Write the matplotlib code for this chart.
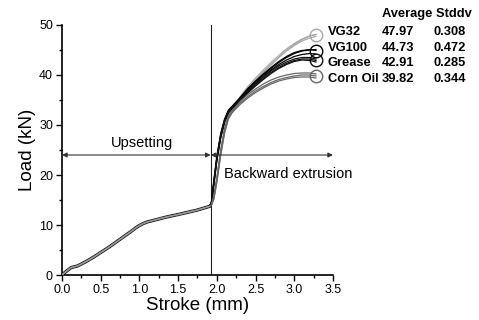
import matplotlib
matplotlib.use("Agg")
import matplotlib.pyplot as plt
from matplotlib.ticker import MultipleLocator

plt.rcParams['font.family'] = ['Liberation Sans', 'DejaVu Sans']

# Upsetting stage (shared by all tests)
stroke_upset = [0.0, 0.06, 0.12, 0.2, 0.3, 0.4, 0.5, 0.6, 0.7, 0.8, 0.9, 0.95,
                1.0, 1.05, 1.1, 1.2, 1.35, 1.5, 1.75, 1.9]
load_upset = [0.0, 0.8, 1.5, 1.8, 2.6, 3.5, 4.5, 5.5, 6.6, 7.7, 8.8, 9.4,
              9.9, 10.3, 10.6, 11.0, 11.6, 12.1, 13.0, 13.7]

# Backward extrusion stage, three tests per lubricant
stroke_ext = [1.93, 1.96, 2.0, 2.05, 2.1, 2.15, 2.2, 2.3, 2.4, 2.5, 2.6, 2.7,
              2.8, 2.9, 3.0, 3.1, 3.2, 3.28]

lubricants = ['VG32', 'VG100', 'Grease', 'Corn Oil']
averages = ['47.97', '44.73', '42.91', '39.82']
stddevs = ['0.308', '0.472', '0.285', '0.344']
colors = ['#a8a8a8', '#000000', '#111111', '#686868']

vg32_tests = [
    [14.0, 15.5, 19.0, 24.5, 29.0, 31.8, 33.0, 35.3, 37.3, 39.0, 40.6, 42.1, 43.5, 44.8, 45.9, 46.8, 47.4, 47.7],
    [14.0, 15.2, 18.5, 24.0, 28.6, 31.5, 32.8, 35.1, 37.1, 38.9, 40.5, 42.0, 43.5, 44.9, 46.1, 47.1, 47.8, 48.1],
    [14.0, 15.8, 19.5, 25.0, 29.3, 32.0, 33.2, 35.6, 37.7, 39.4, 41.0, 42.5, 43.9, 45.2, 46.3, 47.2, 47.8, 48.1],
]
vg100_tests = [
    [14.5, 18.5, 23.5, 28.0, 31.0, 32.8, 33.6, 35.3, 37.1, 38.6, 40.0, 41.3, 42.5, 43.5, 44.3, 44.8, 45.0, 45.1],
    [14.3, 18.0, 23.0, 27.6, 30.7, 32.6, 33.5, 35.1, 36.8, 38.3, 39.7, 41.0, 42.1, 43.0, 43.7, 44.1, 44.3, 44.2],
    [14.6, 18.8, 23.8, 28.3, 31.2, 33.0, 33.8, 35.5, 37.3, 38.8, 40.2, 41.5, 42.7, 43.7, 44.5, 44.9, 45.1, 44.9],
]
grease_tests = [
    [14.4, 18.2, 23.2, 27.8, 30.8, 32.6, 33.4, 35.0, 36.6, 38.0, 39.3, 40.5, 41.5, 42.3, 42.9, 43.2, 43.2, 42.9],
    [14.3, 17.8, 22.8, 27.4, 30.5, 32.4, 33.3, 34.8, 36.4, 37.8, 39.1, 40.3, 41.3, 42.1, 42.7, 43.0, 42.9, 42.6],
    [14.5, 18.4, 23.4, 28.0, 31.0, 32.8, 33.6, 35.2, 36.9, 38.3, 39.6, 40.8, 41.8, 42.6, 43.2, 43.5, 43.5, 43.2],
]
cornoil_tests = [
    [14.0, 15.4, 19.0, 24.5, 28.8, 31.5, 32.7, 34.4, 35.7, 36.8, 37.7, 38.5, 39.1, 39.5, 39.8, 40.0, 40.0, 39.8],
    [14.0, 15.1, 18.6, 24.0, 28.4, 31.2, 32.5, 34.1, 35.4, 36.5, 37.4, 38.2, 38.8, 39.2, 39.5, 39.6, 39.6, 39.4],
    [14.0, 15.7, 19.4, 25.0, 29.2, 31.8, 32.9, 34.7, 36.1, 37.2, 38.2, 39.0, 39.6, 40.0, 40.3, 40.4, 40.4, 40.2],
]
all_tests = [vg32_tests, vg100_tests, grease_tests, cornoil_tests]

# Stage boundary and phase annotations
stage_boundary = 1.92
arrow_load = 24

fig = plt.figure(figsize=(4.79, 3.2), dpi=100)
ax = fig.add_axes([0.1294, 0.1406, 0.5658, 0.7813])

for tests, color in zip(all_tests, colors):
    for test in tests:
        xs = stroke_upset + stroke_ext
        ys = load_upset + test
        ax.plot(xs, ys, color=color, lw=0.9, zorder=3)

# Overlay the shared upsetting stage so its edges read as dark
ax.plot(stroke_upset, load_upset, color='#222222', lw=2.4, zorder=2)
ax.plot(stroke_upset, load_upset, color='#9a9a9a', lw=1.0, zorder=4)

# End-of-stroke markers at average peak load
for avg, color in zip(averages, colors):
    ax.plot([3.28], [float(avg)], marker='o', ms=9, mfc='none', mec=color,
            mew=1.0, zorder=5, clip_on=False)

ax.axvline(stage_boundary, color='#222222', lw=0.8, zorder=1)

arrow_kw = dict(arrowstyle='<|-|>', color='#333333', lw=0.8,
                mutation_scale=7, shrinkA=0, shrinkB=0)
ax.annotate('', xy=(stage_boundary, arrow_load), xytext=(0.0, arrow_load),
            arrowprops=arrow_kw, zorder=6)
ax.annotate('', xy=(3.5, arrow_load), xytext=(stage_boundary, arrow_load),
            arrowprops=arrow_kw, annotation_clip=False, zorder=6)
ax.text(1.03, 26.4, 'Upsetting', ha='center', va='center', fontsize=10.5)
ax.text(2.09, 20.2, 'Backward extrusion', ha='left', va='center', fontsize=10.5)

ax.set_xlim(0, 3.5)
ax.set_ylim(0, 50)
ax.xaxis.set_major_locator(MultipleLocator(0.5))
ax.xaxis.set_minor_locator(MultipleLocator(0.25))
ax.yaxis.set_major_locator(MultipleLocator(10))
ax.yaxis.set_minor_locator(MultipleLocator(5))
ax.set_xticklabels([f'{v:.1f}' for v in ax.get_xticks()])
ax.tick_params(which='major', direction='out', length=4, width=1.0,
               labelsize=9, pad=2.5)
ax.tick_params(which='minor', direction='out', length=2.5, width=1.0)
for side in ['top', 'right']:
    ax.spines[side].set_visible(False)
for side in ['left', 'bottom']:
    ax.spines[side].set_linewidth(1.2)

ax.set_xlabel('Stroke (mm)', fontsize=13.5, labelpad=1)
ax.set_ylabel('Load (kN)', fontsize=13.5, labelpad=2)

# Summary table of peak loads
W, H = 479, 320
def fx(px):
    return px / W
def fy(py):
    return 1 - py / H

fig.text(fx(382), fy(14), 'Average Stddv', fontsize=9.3, fontweight='bold',
         ha='left', va='center')
row_y = [32, 48, 63, 79]
for name, avg, sd, py in zip(lubricants, averages, stddevs, row_y):
    fig.text(fx(328), fy(py), name, fontsize=9.3, fontweight='bold', ha='left', va='center')
    fig.text(fx(382), fy(py), avg, fontsize=9.3, fontweight='bold', ha='left', va='center')
    fig.text(fx(433), fy(py), sd, fontsize=9.3, fontweight='bold', ha='left', va='center')

fig.savefig('out.png', dpi=100)
